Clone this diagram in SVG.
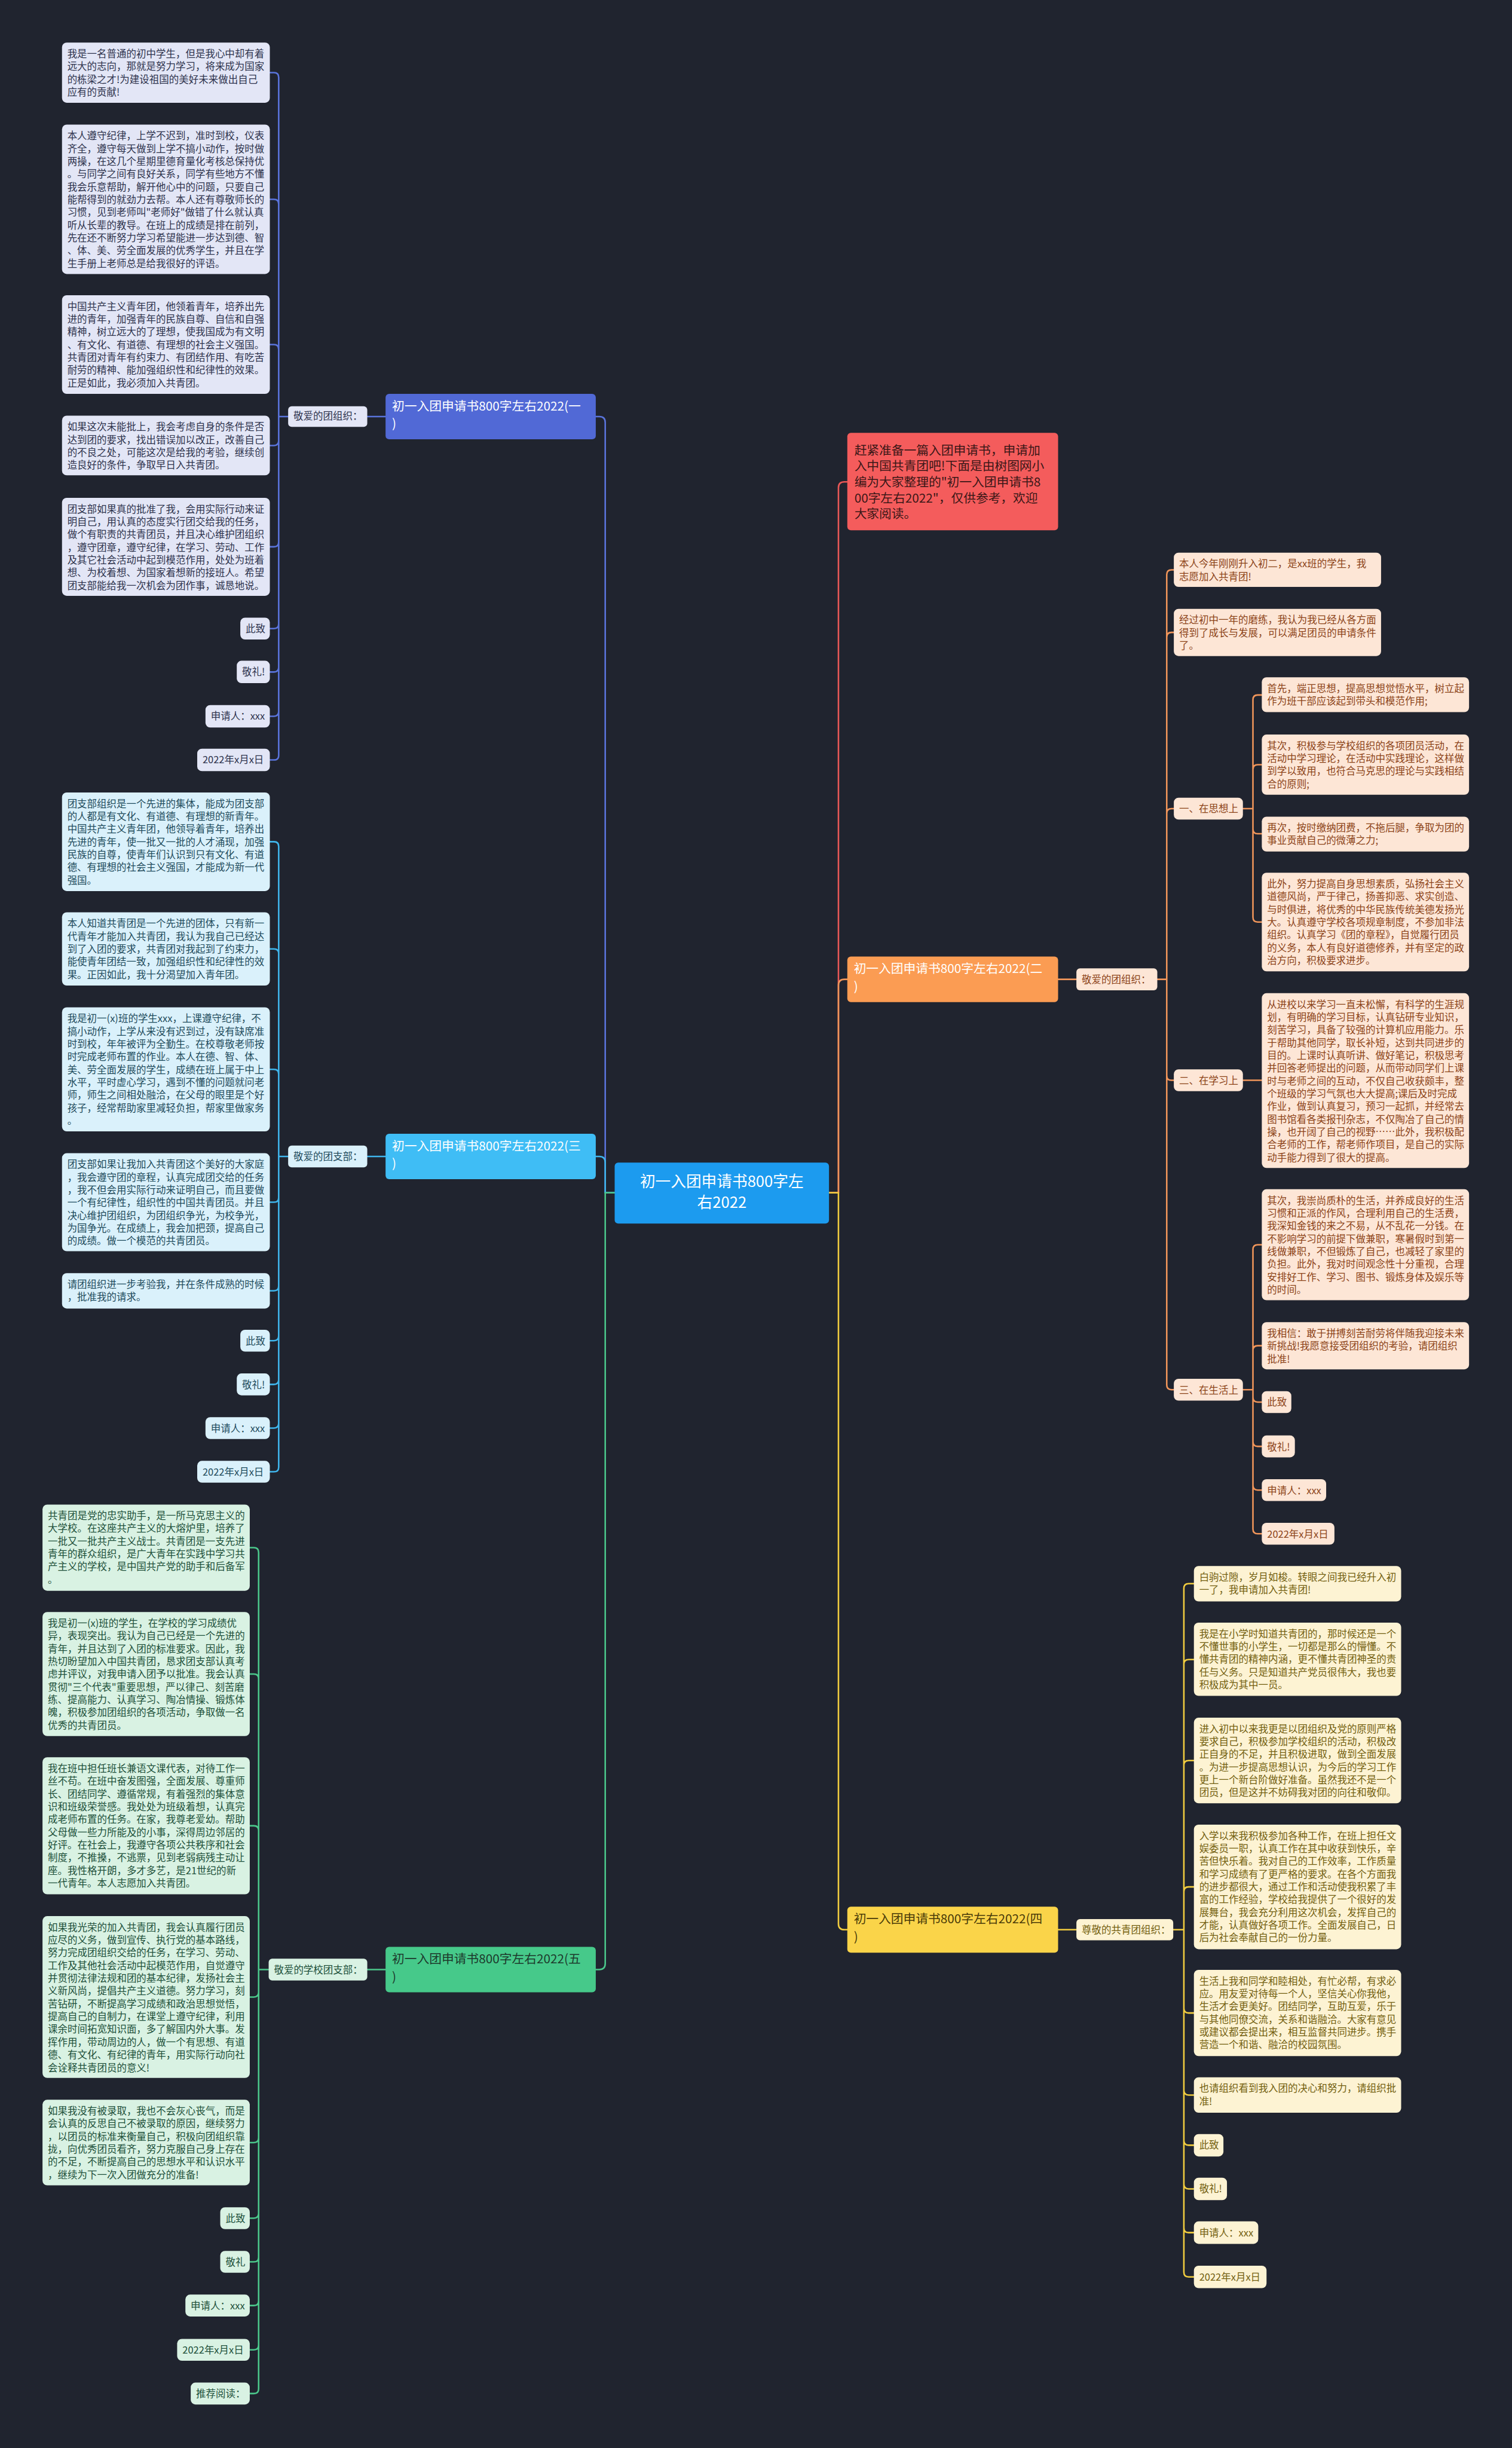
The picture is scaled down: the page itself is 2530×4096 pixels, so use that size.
<svg xmlns="http://www.w3.org/2000/svg" width="2530" height="4096" viewBox="0 0 2530 4096">
<defs>
<style>
.t{font-family:"Noto Sans CJK SC","Noto Sans",sans-serif;font-size:16.7px}
.tb{font-family:"Noto Sans CJK SC","Noto Sans",sans-serif;font-size:21px}
.tc{font-family:"Noto Sans CJK SC","Noto Sans",sans-serif;font-size:26px;fill:#ffffff;text-anchor:middle}
.b1{fill:#e3e6f6}.x1{fill:#2e334d}
.b3{fill:#daf1fb}.x3{fill:#1e4b5c}
.b5{fill:#d9f2e3}.x5{fill:#20503a}
.b2{fill:#fde6d6}.x2{fill:#8c4318}
.b4{fill:#fdf3d3}.x4{fill:#73600f}
.ln{fill:none;stroke-width:2.6;stroke-linecap:round;stroke-linejoin:round}
.l1{stroke:#5a74db}.l3{stroke:#3fb5ec}.l5{stroke:#4bc78b}.l2{stroke:#f0955a}.l4{stroke:#f1cc3f}.lr{stroke:#e85757}
</style>
</defs>
<rect x="0" y="0" width="2530" height="4096" fill="#20242f"/>
<g transform="scale(0.988)">
<g id="connectors">
<path class="ln l1" d="M1041,2020 H1025 V715.5 Q1025,705.5 1015,705.5 H1009"/>
<path class="ln l3" d="M1041,2020 H1025 V1968.5 Q1025,1958.5 1015,1958.5 H1009"/>
<path class="ln l5" d="M1041,2020 H1025 V3325.5 Q1025,3335.5 1015,3335.5 H1009"/>
<path class="ln lr" d="M1404,2020 H1420 V826 Q1420,816 1430,816 H1435"/>
<path class="ln l2" d="M1404,2020 H1420 V1668.5 Q1420,1658.5 1430,1658.5 H1435"/>
<path class="ln l4" d="M1404,2020 H1420 V3258 Q1420,3268 1430,3268 H1435"/>
<path class="ln l1" d="M653,705.5 H622"/>
<path class="ln l3" d="M653,1958.5 H622"/>
<path class="ln l5" d="M653,3335.5 H622"/>
<path class="ln l2" d="M1792,1658.5 H1823"/>
<path class="ln l4" d="M1792,3268 H1823"/>
<path class="ln l1" d="M488,705.5 H472 V131 Q472,123 464,123 H457 M472,705.5 V345.5 Q472,337.5 464,337.5 H457 M472,705.5 V591.5 Q472,583.5 464,583.5 H457 M472,705.5 V746.5 Q472,754.5 464,754.5 H457 M472,705.5 V918 Q472,926 464,926 H457 M472,705.5 V1056.5 Q472,1064.5 464,1064.5 H457 M472,705.5 V1130 Q472,1138 464,1138 H457 M472,705.5 V1205 Q472,1213 464,1213 H457 M472,705.5 V1279 Q472,1287 464,1287 H457"/>
<path class="ln l3" d="M488,1958.5 H472 V1433.5 Q472,1425.5 464,1425.5 H457 M472,1958.5 V1615 Q472,1607 464,1607 H457 M472,1958.5 V1819 Q472,1811 464,1811 H457 M472,1958.5 V2028 Q472,2036 464,2036 H457 M472,1958.5 V2178 Q472,2186 464,2186 H457 M472,1958.5 V2262.5 Q472,2270.5 464,2270.5 H457 M472,1958.5 V2336.5 Q472,2344.5 464,2344.5 H457 M472,1958.5 V2410.5 Q472,2418.5 464,2418.5 H457 M472,1958.5 V2484.5 Q472,2492.5 464,2492.5 H457"/>
<path class="ln l5" d="M455,3335.5 H438 V2629 Q438,2621 430,2621 H423 M438,3335.5 V2843 Q438,2835 430,2835 H423 M438,3335.5 V3100 Q438,3092 430,3092 H423 M438,3335.5 V3374 Q438,3382 430,3382 H423 M438,3335.5 V3620.5 Q438,3628.5 430,3628.5 H423 M438,3335.5 V3748.5 Q438,3756.5 430,3756.5 H423 M438,3335.5 V3822.5 Q438,3830.5 430,3830.5 H423 M438,3335.5 V3896.5 Q438,3904.5 430,3904.5 H423 M438,3335.5 V3971.5 Q438,3979.5 430,3979.5 H423 M438,3335.5 V4045.5 Q438,4053.5 430,4053.5 H423"/>
<path class="ln l2" d="M1960,1658.5 H1976 V973 Q1976,965 1984,965 H1988 M1976,1658.5 V1079 Q1976,1071 1984,1071 H1988 M1976,1658.5 V1377.5 Q1976,1369.5 1984,1369.5 H1988 M1976,1658.5 V1821.5 Q1976,1829.5 1984,1829.5 H1988 M1976,1658.5 V2345.5 Q1976,2353.5 1984,2353.5 H1988"/>
<path class="ln l2" d="M2105,1369.5 H2122 V1185 Q2122,1177 2130,1177 H2137 M2122,1369.5 V1303 Q2122,1295 2130,1295 H2137 M2122,1369.5 V1404 Q2122,1412 2130,1412 H2137 M2122,1369.5 V1553.5 Q2122,1561.5 2130,1561.5 H2137"/>
<path class="ln l2" d="M2105,1829.5 H2137"/>
<path class="ln l2" d="M2105,2353.5 H2122 V2116 Q2122,2108 2130,2108 H2137 M2122,2353.5 V2287 Q2122,2279 2130,2279 H2137 M2122,2353.5 V2366.5 Q2122,2374.5 2130,2374.5 H2137 M2122,2353.5 V2441.5 Q2122,2449.5 2130,2449.5 H2137 M2122,2353.5 V2515.5 Q2122,2523.5 2130,2523.5 H2137 M2122,2353.5 V2589.5 Q2122,2597.5 2130,2597.5 H2137"/>
<path class="ln l4" d="M1987,3268 H2005 V2690 Q2005,2682 2013,2682 H2022 M2005,3268 V2818.5 Q2005,2810.5 2013,2810.5 H2022 M2005,3268 V2989.5 Q2005,2981.5 2013,2981.5 H2022 M2005,3268 V3203.5 Q2005,3195.5 2013,3195.5 H2022 M2005,3268 V3401 Q2005,3409 2013,3409 H2022 M2005,3268 V3540 Q2005,3548 2013,3548 H2022 M2005,3268 V3625 Q2005,3633 2013,3633 H2022 M2005,3268 V3699 Q2005,3707 2013,3707 H2022 M2005,3268 V3773 Q2005,3781 2013,3781 H2022 M2005,3268 V3848 Q2005,3856 2013,3856 H2022"/>
</g>

<g id="center">
<rect x="1041" y="1969" width="363" height="103" rx="6" fill="#1c9bef"/>
<text class="tc"><tspan x="1222.5" y="2010">初一入团申请书800字左</tspan><tspan x="1222.5" y="2046">右2022</tspan></text>
</g>

<g id="branch1">
<rect x="653" y="667" width="356" height="77" rx="6" fill="#5169d6"/>
<text class="tb" fill="#ffffff"><tspan x="664" y="695">初一入团申请书800字左右2022(一</tspan><tspan x="664" y="725">)</tspan></text>
</g>
<g id="branch3">
<rect x="653" y="1920" width="356" height="77" rx="6" fill="#3fbdf5"/>
<text class="tb" fill="#ffffff"><tspan x="664" y="1948">初一入团申请书800字左右2022(三</tspan><tspan x="664" y="1978">)</tspan></text>
</g>
<g id="branch5">
<rect x="653" y="3297" width="356" height="77" rx="6" fill="#46c98a"/>
<text class="tb" fill="#1d3a2c"><tspan x="664" y="3325">初一入团申请书800字左右2022(五</tspan><tspan x="664" y="3355">)</tspan></text>
</g>
<g id="intro">
<rect x="1435" y="733" width="357" height="165" rx="6" fill="#f45c5c"/>
<text class="tb" fill="#3b1717"><tspan x="1447" y="770">赶紧准备一篇入团申请书，申请加</tspan><tspan x="1447" y="797">入中国共青团吧!下面是由树图网小</tspan><tspan x="1447" y="824">编为大家整理的"初一入团申请书8</tspan><tspan x="1447" y="851">00字左右2022"，仅供参考，欢迎</tspan><tspan x="1447" y="878">大家阅读。</tspan></text>
</g>
<g id="branch2">
<rect x="1435" y="1620" width="357" height="77" rx="6" fill="#fb9c53"/>
<text class="tb" fill="#ffffff"><tspan x="1446" y="1648">初一入团申请书800字左右2022(二</tspan><tspan x="1446" y="1678">)</tspan></text>
</g>
<g id="branch4">
<rect x="1435" y="3229" width="357" height="78" rx="6" fill="#fad449"/>
<text class="tb" fill="#4a3b08"><tspan x="1446" y="3257">初一入团申请书800字左右2022(四</tspan><tspan x="1446" y="3287">)</tspan></text>
</g>

<g id="label1"><rect class="b1" x="488" y="688" width="134" height="35" rx="6"/><text class="t x1" x="497" y="711">敬爱的团组织：</text></g>
<g id="label3"><rect class="b3" x="488" y="1940" width="134" height="37" rx="6"/><text class="t x3" x="497" y="1965">敬爱的团支部：</text></g>
<g id="label5"><rect class="b5" x="455" y="3317" width="167" height="37" rx="6"/><text class="t x5" x="464" y="3342">敬爱的学校团支部：</text></g>
<g id="label2"><rect class="b2" x="1823" y="1640" width="137" height="37" rx="6"/><text class="t x2" x="1832" y="1665">敬爱的团组织：</text></g>
<g id="label4"><rect class="b4" x="1823" y="3250" width="164" height="36" rx="6"/><text class="t x4" x="1832" y="3274">尊敬的共青团组织：</text></g>

<g id="s1-1"><rect class="b1" x="105" y="72" width="352" height="102" rx="8"/><text class="t x1"><tspan x="114" y="97">我是一名普通的初中学生，但是我心中却有着</tspan><tspan x="114" y="118.6">远大的志向，那就是努力学习，将来成为国家</tspan><tspan x="114" y="140.2">的栋梁之才!为建设祖国的美好未来做出自己</tspan><tspan x="114" y="161.8">应有的贡献!</tspan></text></g>
<g id="s1-2"><rect class="b1" x="105" y="211" width="352" height="253" rx="8"/><text class="t x1"><tspan x="114" y="236">本人遵守纪律，上学不迟到，准时到校，仪表</tspan><tspan x="114" y="257.6">齐全，遵守每天做到上学不搞小动作，按时做</tspan><tspan x="114" y="279.2">两操，在这几个星期里德育量化考核总保持优</tspan><tspan x="114" y="300.8">。与同学之间有良好关系，同学有些地方不懂</tspan><tspan x="114" y="322.4">我会乐意帮助，解开他心中的问题，只要自己</tspan><tspan x="114" y="344">能帮得到的就劲力去帮。本人还有尊敬师长的</tspan><tspan x="114" y="365.6">习惯，见到老师叫"老师好"做错了什么就认真</tspan><tspan x="114" y="387.2">听从长辈的教导。在班上的成绩是排在前列，</tspan><tspan x="114" y="408.8">先在还不断努力学习希望能进一步达到德、智</tspan><tspan x="114" y="430.4">、体、美、劳全面发展的优秀学生，并且在学</tspan><tspan x="114" y="452">生手册上老师总是给我很好的评语。</tspan></text></g>
<g id="s1-3"><rect class="b1" x="105" y="500" width="352" height="167" rx="8"/><text class="t x1"><tspan x="114" y="525">中国共产主义青年团，他领着青年，培养出先</tspan><tspan x="114" y="546.6">进的青年，加强青年的民族自尊、自信和自强</tspan><tspan x="114" y="568.2">精神，树立远大的了理想，使我国成为有文明</tspan><tspan x="114" y="589.8">、有文化、有道德、有理想的社会主义强国。</tspan><tspan x="114" y="611.4">共青团对青年有约束力、有团结作用、有吃苦</tspan><tspan x="114" y="633">耐劳的精神、能加强组织性和纪律性的效果。</tspan><tspan x="114" y="654.6">正是如此，我必须加入共青团。</tspan></text></g>
<g id="s1-4"><rect class="b1" x="105" y="704" width="352" height="101" rx="8"/><text class="t x1"><tspan x="114" y="729">如果这次未能批上，我会考虑自身的条件是否</tspan><tspan x="114" y="750.6">达到团的要求，找出错误加以改正，改善自己</tspan><tspan x="114" y="772.2">的不良之处，可能这次是给我的考验，继续创</tspan><tspan x="114" y="793.8">造良好的条件，争取早日入共青团。</tspan></text></g>
<g id="s1-5"><rect class="b1" x="105" y="843" width="352" height="166" rx="8"/><text class="t x1"><tspan x="114" y="868">团支部如果真的批准了我，会用实际行动来证</tspan><tspan x="114" y="889.6">明自己，用认真的态度实行团交给我的任务，</tspan><tspan x="114" y="911.2">做个有职责的共青团员，并且决心维护团组织</tspan><tspan x="114" y="932.8">，遵守团章，遵守纪律，在学习、劳动、工作</tspan><tspan x="114" y="954.4">及其它社会活动中起到模范作用，处处为班着</tspan><tspan x="114" y="976">想、为校着想、为国家着想新的接班人。希望</tspan><tspan x="114" y="997.6">团支部能给我一次机会为团作事，诚恳地说。</tspan></text></g>
<g id="s1-6"><rect class="b1" x="407" y="1046" width="50" height="37" rx="8"/><text class="t x1" x="416" y="1071">此致</text></g>
<g id="s1-7"><rect class="b1" x="401" y="1119" width="56" height="38" rx="8"/><text class="t x1" x="410" y="1144">敬礼!</text></g>
<g id="s1-8"><rect class="b1" x="348" y="1194" width="109" height="38" rx="8"/><text class="t x1" x="357" y="1219">申请人：xxx</text></g>
<g id="s1-9"><rect class="b1" x="334" y="1268" width="123" height="38" rx="8"/><text class="t x1" x="343" y="1293">2022年x月x日</text></g>

<g id="s3-1"><rect class="b3" x="105" y="1342" width="352" height="167" rx="8"/><text class="t x3"><tspan x="114" y="1367">团支部组织是一个先进的集体，能成为团支部</tspan><tspan x="114" y="1388.6">的人都是有文化、有道德、有理想的新青年。</tspan><tspan x="114" y="1410.2">中国共产主义青年团，他领导着青年，培养出</tspan><tspan x="114" y="1431.8">先进的青年，使一批又一批的人才涌现，加强</tspan><tspan x="114" y="1453.4">民族的自尊，使青年们认识到只有文化、有道</tspan><tspan x="114" y="1475">德、有理想的社会主义强国，才能成为新一代</tspan><tspan x="114" y="1496.6">强国。</tspan></text></g>
<g id="s3-2"><rect class="b3" x="105" y="1545" width="352" height="124" rx="8"/><text class="t x3"><tspan x="114" y="1570">本人知道共青团是一个先进的团体，只有新一</tspan><tspan x="114" y="1591.6">代青年才能加入共青团，我认为我自己已经达</tspan><tspan x="114" y="1613.2">到了入团的要求，共青团对我起到了约束力，</tspan><tspan x="114" y="1634.8">能使青年团结一致，加强组织性和纪律性的效</tspan><tspan x="114" y="1656.4">果。正因如此，我十分渴望加入青年团。</tspan></text></g>
<g id="s3-3"><rect class="b3" x="105" y="1706" width="352" height="210" rx="8"/><text class="t x3"><tspan x="114" y="1731">我是初一(x)班的学生xxx，上课遵守纪律，不</tspan><tspan x="114" y="1752.6">搞小动作，上学从来没有迟到过，没有缺席准</tspan><tspan x="114" y="1774.2">时到校，年年被评为全勤生。在校尊敬老师按</tspan><tspan x="114" y="1795.8">时完成老师布置的作业。本人在德、智、体、</tspan><tspan x="114" y="1817.4">美、劳全面发展的学生，成绩在班上属于中上</tspan><tspan x="114" y="1839">水平，平时虚心学习，遇到不懂的问题就问老</tspan><tspan x="114" y="1860.6">师，师生之间相处融洽，在父母的眼里是个好</tspan><tspan x="114" y="1882.2">孩子，经常帮助家里减轻负担，帮家里做家务</tspan><tspan x="114" y="1903.8">。</tspan></text></g>
<g id="s3-4"><rect class="b3" x="105" y="1953" width="352" height="166" rx="8"/><text class="t x3"><tspan x="114" y="1978">团支部如果让我加入共青团这个美好的大家庭</tspan><tspan x="114" y="1999.6">，我会遵守团的章程，认真完成团交给的任务</tspan><tspan x="114" y="2021.2">，我不但会用实际行动来证明自己，而且要做</tspan><tspan x="114" y="2042.8">一个有纪律性，组织性的中国共青团员。并且</tspan><tspan x="114" y="2064.4">决心维护团组织，为团组织争光，为校争光，</tspan><tspan x="114" y="2086">为国争光。在成绩上，我会加把颈，提高自己</tspan><tspan x="114" y="2107.6">的成绩。做一个模范的共青团员。</tspan></text></g>
<g id="s3-5"><rect class="b3" x="105" y="2156" width="352" height="60" rx="8"/><text class="t x3"><tspan x="114" y="2181">请团组织进一步考验我，并在条件成熟的时候</tspan><tspan x="114" y="2202.6">，批准我的请求。</tspan></text></g>
<g id="s3-6"><rect class="b3" x="407" y="2252" width="50" height="37" rx="8"/><text class="t x3" x="416" y="2277">此致</text></g>
<g id="s3-7"><rect class="b3" x="401" y="2326" width="56" height="37" rx="8"/><text class="t x3" x="410" y="2351">敬礼!</text></g>
<g id="s3-8"><rect class="b3" x="348" y="2400" width="109" height="37" rx="8"/><text class="t x3" x="357" y="2425">申请人：xxx</text></g>
<g id="s3-9"><rect class="b3" x="334" y="2474" width="123" height="37" rx="8"/><text class="t x3" x="343" y="2499">2022年x月x日</text></g>

<g id="s5-1"><rect class="b5" x="72" y="2548" width="351" height="146" rx="8"/><text class="t x5"><tspan x="81" y="2573">共青团是党的忠实助手，是一所马克思主义的</tspan><tspan x="81" y="2594.6">大学校。在这座共产主义的大熔炉里，培养了</tspan><tspan x="81" y="2616.2">一批又一批共产主义战士。共青团是一支先进</tspan><tspan x="81" y="2637.8">青年的群众组织，是广大青年在实践中学习共</tspan><tspan x="81" y="2659.4">产主义的学校，是中国共产党的助手和后备军</tspan><tspan x="81" y="2681">。</tspan></text></g>
<g id="s5-2"><rect class="b5" x="72" y="2730" width="351" height="210" rx="8"/><text class="t x5"><tspan x="81" y="2755">我是初一(x)班的学生，在学校的学习成绩优</tspan><tspan x="81" y="2776.6">异，表现突出。我认为自己已经是一个先进的</tspan><tspan x="81" y="2798.2">青年，并且达到了入团的标准要求。因此，我</tspan><tspan x="81" y="2819.8">热切盼望加入中国共青团，恳求团支部认真考</tspan><tspan x="81" y="2841.4">虑并评议，对我申请入团予以批准。我会认真</tspan><tspan x="81" y="2863">贯彻"三个代表"重要思想，严以律己、刻苦磨</tspan><tspan x="81" y="2884.6">练、提高能力、认真学习、陶冶情操、锻炼体</tspan><tspan x="81" y="2906.2">魄，积极参加团组织的各项活动，争取做一名</tspan><tspan x="81" y="2927.8">优秀的共青团员。</tspan></text></g>
<g id="s5-3"><rect class="b5" x="72" y="2976" width="351" height="232" rx="8"/><text class="t x5"><tspan x="81" y="3001">我在班中担任班长兼语文课代表，对待工作一</tspan><tspan x="81" y="3022.6">丝不苟。在班中奋发图强，全面发展、尊重师</tspan><tspan x="81" y="3044.2">长、团结同学、遵循常规，有着强烈的集体意</tspan><tspan x="81" y="3065.8">识和班级荣誉感。我处处为班级着想，认真完</tspan><tspan x="81" y="3087.4">成老师布置的任务。在家，我尊老爱幼。帮助</tspan><tspan x="81" y="3109">父母做一些力所能及的小事，深得周边邻居的</tspan><tspan x="81" y="3130.6">好评。在社会上，我遵守各项公共秩序和社会</tspan><tspan x="81" y="3152.2">制度，不推搡，不逃票，见到老弱病残主动让</tspan><tspan x="81" y="3173.8">座。我性格开朗，多才多艺，是21世纪的新</tspan><tspan x="81" y="3195.4">一代青年。本人志愿加入共青团。</tspan></text></g>
<g id="s5-4"><rect class="b5" x="72" y="3245" width="351" height="274" rx="8"/><text class="t x5"><tspan x="81" y="3270">如果我光荣的加入共青团，我会认真履行团员</tspan><tspan x="81" y="3291.6">应尽的义务，做到宣传、执行党的基本路线，</tspan><tspan x="81" y="3313.2">努力完成团组织交给的任务，在学习、劳动、</tspan><tspan x="81" y="3334.8">工作及其他社会活动中起模范作用，自觉遵守</tspan><tspan x="81" y="3356.4">并贯彻法律法规和团的基本纪律，发扬社会主</tspan><tspan x="81" y="3378">义新风尚，提倡共产主义道德。努力学习，刻</tspan><tspan x="81" y="3399.6">苦钻研，不断提高学习成绩和政治思想觉悟，</tspan><tspan x="81" y="3421.2">提高自己的自制力，在课堂上遵守纪律，利用</tspan><tspan x="81" y="3442.8">课余时间拓宽知识面，多了解国内外大事。发</tspan><tspan x="81" y="3464.4">挥作用，带动周边的人，做一个有思想、有道</tspan><tspan x="81" y="3486">德、有文化、有纪律的青年，用实际行动向社</tspan><tspan x="81" y="3507.6">会诠释共青团员的意义!</tspan></text></g>
<g id="s5-5"><rect class="b5" x="72" y="3556" width="351" height="145" rx="8"/><text class="t x5"><tspan x="81" y="3581">如果我没有被录取，我也不会灰心丧气，而是</tspan><tspan x="81" y="3602.6">会认真的反思自己不被录取的原因，继续努力</tspan><tspan x="81" y="3624.2">，以团员的标准来衡量自己，积极向团组织靠</tspan><tspan x="81" y="3645.8">拢，向优秀团员看齐，努力克服自己身上存在</tspan><tspan x="81" y="3667.4">的不足，不断提高自己的思想水平和认识水平</tspan><tspan x="81" y="3689">，继续为下一次入团做充分的准备!</tspan></text></g>
<g id="s5-6"><rect class="b5" x="373" y="3738" width="50" height="37" rx="8"/><text class="t x5" x="382" y="3763">此致</text></g>
<g id="s5-7"><rect class="b5" x="373" y="3812" width="50" height="37" rx="8"/><text class="t x5" x="382" y="3837">敬礼</text></g>
<g id="s5-8"><rect class="b5" x="314" y="3886" width="109" height="37" rx="8"/><text class="t x5" x="323" y="3911">申请人：xxx</text></g>
<g id="s5-9"><rect class="b5" x="300" y="3961" width="123" height="37" rx="8"/><text class="t x5" x="309" y="3986">2022年x月x日</text></g>
<g id="s5-10"><rect class="b5" x="323" y="4035" width="100" height="37" rx="8"/><text class="t x5" x="332" y="4060">推荐阅读：</text></g>

<g id="s2-1"><rect class="b2" x="1988" y="936" width="351" height="58" rx="8"/><text class="t x2"><tspan x="1997" y="961">本人今年刚刚升入初二，是xx班的学生，我</tspan><tspan x="1997" y="982.6">志愿加入共青团!</tspan></text></g>
<g id="s2-2"><rect class="b2" x="1988" y="1031" width="351" height="80" rx="8"/><text class="t x2"><tspan x="1997" y="1056">经过初中一年的磨练，我认为我已经从各方面</tspan><tspan x="1997" y="1077.6">得到了成长与发展，可以满足团员的申请条件</tspan><tspan x="1997" y="1099.2">了。</tspan></text></g>
<g id="s2-a"><rect class="b2" x="1988" y="1351" width="117" height="37" rx="8"/><text class="t x2" x="1997" y="1376">一、在思想上</text></g>
<g id="s2-a1"><rect class="b2" x="2137" y="1147" width="351" height="59" rx="8"/><text class="t x2"><tspan x="2146" y="1172">首先，端正思想，提高思想觉悟水平，树立起</tspan><tspan x="2146" y="1193.6">作为班干部应该起到带头和模范作用;</tspan></text></g>
<g id="s2-a2"><rect class="b2" x="2137" y="1244" width="351" height="102" rx="8"/><text class="t x2"><tspan x="2146" y="1269">其次，积极参与学校组织的各项团员活动，在</tspan><tspan x="2146" y="1290.6">活动中学习理论，在活动中实践理论，这样做</tspan><tspan x="2146" y="1312.2">到学以致用，也符合马克思的理论与实践相结</tspan><tspan x="2146" y="1333.8">合的原则;</tspan></text></g>
<g id="s2-a3"><rect class="b2" x="2137" y="1383" width="351" height="59" rx="8"/><text class="t x2"><tspan x="2146" y="1408">再次，按时缴纳团费，不拖后腿，争取为团的</tspan><tspan x="2146" y="1429.6">事业贡献自己的微薄之力;</tspan></text></g>
<g id="s2-a4"><rect class="b2" x="2137" y="1478" width="351" height="167" rx="8"/><text class="t x2"><tspan x="2146" y="1503">此外，努力提高自身思想素质，弘扬社会主义</tspan><tspan x="2146" y="1524.6">道德风尚，严于律己，扬善抑恶、求实创造、</tspan><tspan x="2146" y="1546.2">与时俱进，将优秀的中华民族传统美德发扬光</tspan><tspan x="2146" y="1567.8">大。认真遵守学校各项规章制度，不参加非法</tspan><tspan x="2146" y="1589.4">组织。认真学习《团的章程》，自觉履行团员</tspan><tspan x="2146" y="1611">的义务，本人有良好道德修养，并有坚定的政</tspan><tspan x="2146" y="1632.6">治方向，积极要求进步。</tspan></text></g>
<g id="s2-b"><rect class="b2" x="1988" y="1811" width="117" height="37" rx="8"/><text class="t x2" x="1997" y="1836">二、在学习上</text></g>
<g id="s2-b1"><rect class="b2" x="2137" y="1682" width="351" height="296" rx="8"/><text class="t x2"><tspan x="2146" y="1707">从进校以来学习一直未松懈，有科学的生涯规</tspan><tspan x="2146" y="1728.6">划，有明确的学习目标，认真钻研专业知识，</tspan><tspan x="2146" y="1750.2">刻苦学习，具备了较强的计算机应用能力。乐</tspan><tspan x="2146" y="1771.8">于帮助其他同学，取长补短，达到共同进步的</tspan><tspan x="2146" y="1793.4">目的。上课时认真听讲、做好笔记，积极思考</tspan><tspan x="2146" y="1815">并回答老师提出的问题，从而带动同学们上课</tspan><tspan x="2146" y="1836.6">时与老师之间的互动，不仅自己收获颇丰，整</tspan><tspan x="2146" y="1858.2">个班级的学习气氛也大大提高;课后及时完成</tspan><tspan x="2146" y="1879.8">作业，做到认真复习，预习一起抓，并经常去</tspan><tspan x="2146" y="1901.4">图书馆看各类报刊杂志，不仅陶冶了自己的情</tspan><tspan x="2146" y="1923">操，也开阔了自己的视野……此外，我积极配</tspan><tspan x="2146" y="1944.6">合老师的工作，帮老师作项目，是自己的实际</tspan><tspan x="2146" y="1966.2">动手能力得到了很大的提高。</tspan></text></g>
<g id="s2-c"><rect class="b2" x="1988" y="2335" width="117" height="37" rx="8"/><text class="t x2" x="1997" y="2360">三、在生活上</text></g>
<g id="s2-c1"><rect class="b2" x="2137" y="2014" width="351" height="188" rx="8"/><text class="t x2"><tspan x="2146" y="2039">其次，我崇尚质朴的生活，并养成良好的生活</tspan><tspan x="2146" y="2060.6">习惯和正派的作风，合理利用自己的生活费，</tspan><tspan x="2146" y="2082.2">我深知金钱的来之不易，从不乱花一分钱。在</tspan><tspan x="2146" y="2103.8">不影响学习的前提下做兼职，寒暑假时到第一</tspan><tspan x="2146" y="2125.4">线做兼职，不但锻炼了自己，也减轻了家里的</tspan><tspan x="2146" y="2147">负担。此外，我对时间观念性十分重视，合理</tspan><tspan x="2146" y="2168.6">安排好工作、学习、图书、锻炼身体及娱乐等</tspan><tspan x="2146" y="2190.2">的时间。</tspan></text></g>
<g id="s2-c2"><rect class="b2" x="2137" y="2239" width="351" height="80" rx="8"/><text class="t x2"><tspan x="2146" y="2264">我相信：敢于拼搏刻苦耐劳将伴随我迎接未来</tspan><tspan x="2146" y="2285.6">新挑战!我愿意接受团组织的考验，请团组织</tspan><tspan x="2146" y="2307.2">批准!</tspan></text></g>
<g id="s2-c3"><rect class="b2" x="2137" y="2356" width="50" height="37" rx="8"/><text class="t x2" x="2146" y="2381">此致</text></g>
<g id="s2-c4"><rect class="b2" x="2137" y="2431" width="56" height="37" rx="8"/><text class="t x2" x="2146" y="2456">敬礼!</text></g>
<g id="s2-c5"><rect class="b2" x="2137" y="2505" width="109" height="37" rx="8"/><text class="t x2" x="2146" y="2530">申请人：xxx</text></g>
<g id="s2-c6"><rect class="b2" x="2137" y="2579" width="123" height="37" rx="8"/><text class="t x2" x="2146" y="2604">2022年x月x日</text></g>

<g id="s4-1"><rect class="b4" x="2022" y="2652" width="351" height="60" rx="8"/><text class="t x4"><tspan x="2031" y="2677">白驹过隙，岁月如梭。转眼之间我已经升入初</tspan><tspan x="2031" y="2698.6">一了，我申请加入共青团!</tspan></text></g>
<g id="s4-2"><rect class="b4" x="2022" y="2748" width="351" height="124" rx="8"/><text class="t x4"><tspan x="2031" y="2773">我是在小学时知道共青团的，那时候还是一个</tspan><tspan x="2031" y="2794.6">不懂世事的小学生，一切都是那么的懵懂。不</tspan><tspan x="2031" y="2816.2">懂共青团的精神内涵，更不懂共青团神圣的责</tspan><tspan x="2031" y="2837.8">任与义务。只是知道共产党员很伟大，我也要</tspan><tspan x="2031" y="2859.4">积极成为其中一员。</tspan></text></g>
<g id="s4-3"><rect class="b4" x="2022" y="2909" width="351" height="145" rx="8"/><text class="t x4"><tspan x="2031" y="2934">进入初中以来我更是以团组织及党的原则严格</tspan><tspan x="2031" y="2955.6">要求自己，积极参加学校组织的活动，积极改</tspan><tspan x="2031" y="2977.2">正自身的不足，并且积极进取，做到全面发展</tspan><tspan x="2031" y="2998.8">。为进一步提高思想认识，为今后的学习工作</tspan><tspan x="2031" y="3020.4">更上一个新台阶做好准备。虽然我还不是一个</tspan><tspan x="2031" y="3042">团员，但是这并不妨碍我对团的向往和敬仰。</tspan></text></g>
<g id="s4-4"><rect class="b4" x="2022" y="3090" width="351" height="211" rx="8"/><text class="t x4"><tspan x="2031" y="3115">入学以来我积极参加各种工作，在班上担任文</tspan><tspan x="2031" y="3136.6">娱委员一职，认真工作在其中收获到快乐，辛</tspan><tspan x="2031" y="3158.2">苦但快乐着。我对自己的工作效率，工作质量</tspan><tspan x="2031" y="3179.8">和学习成绩有了更严格的要求。在各个方面我</tspan><tspan x="2031" y="3201.4">的进步都很大，通过工作和活动使我积累了丰</tspan><tspan x="2031" y="3223">富的工作经验，学校给我提供了一个很好的发</tspan><tspan x="2031" y="3244.6">展舞台，我会充分利用这次机会，发挥自己的</tspan><tspan x="2031" y="3266.2">才能，认真做好各项工作。全面发展自己，日</tspan><tspan x="2031" y="3287.8">后为社会奉献自己的一份力量。</tspan></text></g>
<g id="s4-5"><rect class="b4" x="2022" y="3336" width="351" height="146" rx="8"/><text class="t x4"><tspan x="2031" y="3361">生活上我和同学和睦相处，有忙必帮，有求必</tspan><tspan x="2031" y="3382.6">应。用友爱对待每一个人，坚信关心你我他，</tspan><tspan x="2031" y="3404.2">生活才会更美好。团结同学，互助互爱，乐于</tspan><tspan x="2031" y="3425.8">与其他同僚交流，关系和谐融洽。大家有意见</tspan><tspan x="2031" y="3447.4">或建议都会提出来，相互监督共同进步。携手</tspan><tspan x="2031" y="3469">营造一个和谐、融洽的校园氛围。</tspan></text></g>
<g id="s4-6"><rect class="b4" x="2022" y="3518" width="351" height="60" rx="8"/><text class="t x4"><tspan x="2031" y="3543">也请组织看到我入团的决心和努力，请组织批</tspan><tspan x="2031" y="3564.6">准!</tspan></text></g>
<g id="s4-7"><rect class="b4" x="2022" y="3614" width="50" height="38" rx="8"/><text class="t x4" x="2031" y="3639">此致</text></g>
<g id="s4-8"><rect class="b4" x="2022" y="3688" width="56" height="38" rx="8"/><text class="t x4" x="2031" y="3713">敬礼!</text></g>
<g id="s4-9"><rect class="b4" x="2022" y="3762" width="109" height="38" rx="8"/><text class="t x4" x="2031" y="3787">申请人：xxx</text></g>
<g id="s4-10"><rect class="b4" x="2022" y="3837" width="123" height="38" rx="8"/><text class="t x4" x="2031" y="3862">2022年x月x日</text></g>
</g>
</svg>
